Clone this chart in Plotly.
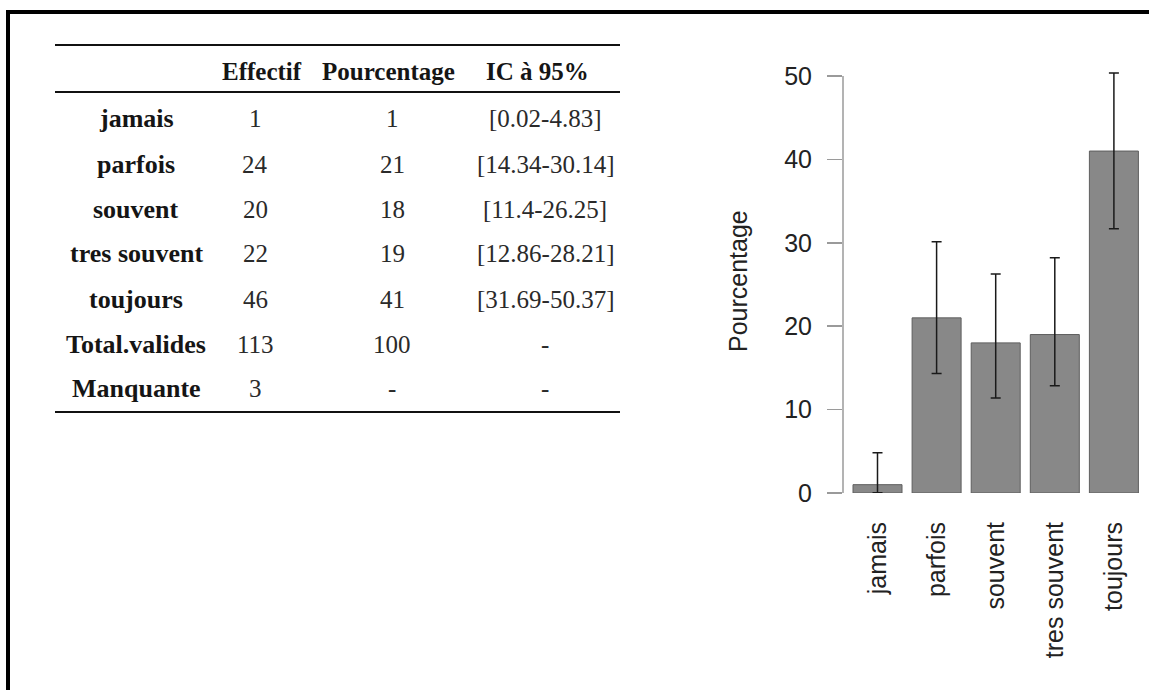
import plotly.graph_objects as go

W, H_REF = 1149, 690
K = 704 / 690          # vertical compensation for the capture
H = round(H_REF * K)

# ---- data ----
categories = ["jamais", "parfois", "souvent", "tres souvent", "toujours"]
effectif = [1, 24, 20, 22, 46]
pourcentage = [1, 21, 18, 19, 41]
ic_low = [0.02, 14.34, 11.4, 12.86, 31.69]
ic_high = [4.83, 30.14, 26.25, 28.21, 50.37]
extra_labels = ["Total.valides", "Manquante"]
extra_effectif = ["113", "3"]
extra_pourcentage = ["100", "-"]
extra_ic = ["-", "-"]
header = ["Effectif", "Pourcentage", "IC à 95%"]
y_ticks = [0, 10, 20, 30, 40, 50]


def px(x):
    return x / W


def py(y):
    # y given in reference pixels (0 at top)
    return (H_REF - y) / H_REF


fig = go.Figure()
fig.add_trace(go.Bar(
    x=categories,
    y=pourcentage,
    marker=dict(color="#888888", line=dict(color="#5e5e5e", width=1)),
    error_y=dict(
        type="data",
        symmetric=False,
        array=[h - v for h, v in zip(ic_high, pourcentage)],
        arrayminus=[v - l for v, l in zip(pourcentage, ic_low)],
        color="#1a1a1a",
        thickness=1.5,
        width=5,
    ),
    hoverinfo="skip",
    showlegend=False,
))

# y mapping: value 0 at pixel 493, 8.34 px/unit (reference pixels)
y0_pix = 493
ppu = 8.34
ytop = 52
dom_y0 = py(y0_pix)
dom_y1 = py(y0_pix - ytop * ppu)

# x mapping: axis at pixel 843, category step 59.1 px, first center 877.5
x_left_pix = 843
step = 59.1
c0 = 877.5
xr0 = -(c0 - x_left_pix) / step
xr1 = xr0 + (W - x_left_pix) / step

axis_font = dict(size=25, color="#222222", family="Liberation Sans, Arial, sans-serif")

fig.update_layout(
    width=W, height=H,
    margin=dict(l=0, r=0, t=0, b=0),
    paper_bgcolor="white", plot_bgcolor="white",
    bargap=1 - 49 / 59.1,
    font=dict(family="Liberation Sans, Arial, sans-serif", color="#222222"),
    xaxis=dict(
        domain=[px(x_left_pix), 1.0],
        range=[xr0, xr1],
        type="category",
        showline=False, showgrid=False, zeroline=False,
        ticks="",
        tickangle=-90,
        tickfont=axis_font,
        ticklabelstandoff=23,
    ),
    yaxis=dict(
        domain=[dom_y0, dom_y1],
        range=[0, ytop],
        showline=False, showgrid=False, zeroline=False,
        tickvals=y_ticks,
        ticks="outside", ticklen=15, tickwidth=1.5, tickcolor="#9a9a9a",
        tickfont=axis_font,
        ticklabelstandoff=10,
    ),
)

# y axis line from 0 to 50 (R-style)
fig.add_shape(type="line", xref="paper", yref="y",
              x0=px(x_left_pix), x1=px(x_left_pix), y0=y_ticks[0], y1=y_ticks[-1],
              line=dict(color="#9a9a9a", width=1.5))

# y axis title
fig.add_annotation(text="Pourcentage", xref="paper", yref="paper",
                   x=px(738), y=py(281), textangle=-90, showarrow=False,
                   font=axis_font, xanchor="center", yanchor="middle")

# ---- table ----
serif = "Liberation Serif, Times New Roman, serif"
tcol = "#151515"
header_x = [262, 388, 537]
col_x = [255, 392, 545]
label_x = 136
header_y = 71
row_y = [118, 164, 209, 254, 299, 344, 389]

for hx, ht in zip(header_x, header):
    fig.add_annotation(text="<b>%s</b>" % ht, xref="paper", yref="paper",
                       x=px(hx), y=py(header_y), showarrow=False,
                       xanchor="center", yanchor="middle",
                       font=dict(family=serif, size=25, color=tcol))

rows = []
for c, e, p, lo, hi in zip(categories, effectif, pourcentage, ic_low, ic_high):
    rows.append((c, str(e), str(p), "[%s-%s]" % (lo, hi)))
for lab, e, p, ic in zip(extra_labels, extra_effectif, extra_pourcentage, extra_ic):
    rows.append((lab, e, p, ic))

for ry, row in zip(row_y, rows):
    fig.add_annotation(text="<b>%s</b>" % row[0], xref="paper", yref="paper",
                       x=px(label_x), y=py(ry), showarrow=False,
                       xanchor="center", yanchor="middle",
                       font=dict(family=serif, size=26, color=tcol))
    for cx, val in zip(col_x, row[1:]):
        fig.add_annotation(text=val, xref="paper", yref="paper",
                           x=px(cx), y=py(ry), showarrow=False,
                           xanchor="center", yanchor="middle",
                           font=dict(family=serif, size=25, color="#2a2a2a"))

for ly in [45, 92, 412]:
    fig.add_shape(type="line", xref="paper", yref="paper",
                  x0=px(55), x1=px(620), y0=py(ly), y1=py(ly),
                  line=dict(color="#111111", width=2))

# ---- frame ----
fig.add_shape(type="line", xref="paper", yref="paper",
              x0=px(6), x1=1.0, y0=py(12), y1=py(12),
              line=dict(color="black", width=4))
fig.add_shape(type="line", xref="paper", yref="paper",
              x0=px(8), x1=px(8), y0=py(10), y1=0,
              line=dict(color="black", width=4))

page_css = (
    "var d=document.documentElement,b=document.body;"
    "d.style.margin='0';d.style.padding='0';d.style.overflow='hidden';"
    "b.style.margin='0';b.style.padding='0';b.style.overflow='hidden';"
    "b.style.fontSize='0';b.style.lineHeight='0';"
)

fig.write_html("out.html", config={"displayModeBar": False, "staticPlot": True},
               post_script=page_css)
